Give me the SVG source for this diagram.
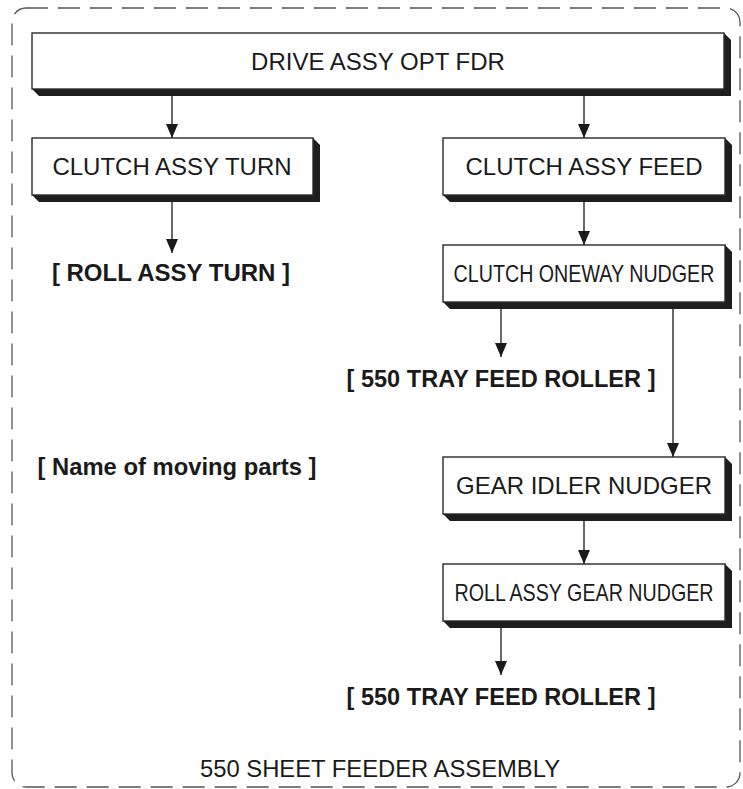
<svg xmlns="http://www.w3.org/2000/svg" width="743" height="789" viewBox="0 0 743 789">
<defs>
<style>
.box{fill:#fff;stroke:#2a2a2a;stroke-width:1.4}
.sh{fill:#1e1e1e}
.t{font-family:"Liberation Sans",Arial,sans-serif;font-size:24px;fill:#1a1a1a;text-anchor:middle}
.b{font-family:"Liberation Sans",Arial,sans-serif;font-size:24px;font-weight:bold;fill:#1a1a1a;text-anchor:middle}
.c{stroke:#2a2a2a;stroke-width:1.4;fill:none}
</style>
<marker id="ah" viewBox="0 0 14 12" refX="14" refY="6" markerWidth="14" markerHeight="12" markerUnits="userSpaceOnUse" orient="auto">
<path d="M0,0 L14,6 L0,12 Z" fill="#1a1a1a"/>
</marker>
</defs>
<rect width="743" height="789" fill="#fff"/>
<rect x="12" y="8" width="728" height="779" rx="14" fill="none" stroke="#555" stroke-width="1.3" stroke-dasharray="22 10"/>

<g id="drive">
<path class="sh" d="M724,33 L731,40 L731,96 L39,96 L32,89 Z"/>
<rect class="box" x="32" y="33" width="692" height="56"/>
<text class="t" x="378" y="70">DRIVE ASSY OPT FDR</text>
</g>
<g id="clutch_turn">
<path class="sh" d="M313,138 L320,145 L320,202 L39,202 L32,195 Z"/>
<rect class="box" x="32" y="138" width="281" height="57"/>
<text class="t" x="172" y="175">CLUTCH ASSY TURN</text>
</g>
<g id="clutch_feed">
<path class="sh" d="M725,138 L732,145 L732,202 L450,202 L443,195 Z"/>
<rect class="box" x="443" y="138" width="282" height="57"/>
<text class="t" x="584" y="175">CLUTCH ASSY FEED</text>
</g>
<g id="clutch_oneway">
<path class="sh" d="M725,245 L732,252 L732,309 L450,309 L443,302 Z"/>
<rect class="box" x="443" y="245" width="282" height="57"/>
<text class="t" transform="translate(584,282) scale(0.82,1)" x="0" y="0">CLUTCH ONEWAY NUDGER</text>
</g>
<g id="gear_idler">
<path class="sh" d="M725,457 L732,464 L732,521 L450,521 L443,514 Z"/>
<rect class="box" x="443" y="457" width="282" height="57"/>
<text class="t" x="584" y="494">GEAR IDLER NUDGER</text>
</g>
<g id="roll_gear">
<path class="sh" d="M725,564 L732,571 L732,628 L450,628 L443,621 Z"/>
<rect class="box" x="443" y="564" width="282" height="57"/>
<text class="t" transform="translate(584,601) scale(0.82,1)" x="0" y="0">ROLL ASSY GEAR NUDGER</text>
</g>
<g id="roll_turn">
<text class="b" x="171" y="281">[ ROLL ASSY TURN ]</text>
</g>
<g id="tray1">
<text class="b" x="501" y="387" textLength="309" lengthAdjust="spacingAndGlyphs">[ 550 TRAY FEED ROLLER ]</text>
</g>
<g id="legend">
<text class="b" x="177" y="475" textLength="279" lengthAdjust="spacingAndGlyphs">[ Name of moving parts ]</text>
</g>
<g id="tray2">
<text class="b" x="501" y="705" textLength="309" lengthAdjust="spacingAndGlyphs">[ 550 TRAY FEED ROLLER ]</text>
</g>
<g id="title">
<text class="t" x="380" y="777" textLength="360" lengthAdjust="spacingAndGlyphs">550 SHEET FEEDER ASSEMBLY</text>
</g>
<g id="connectors">
<line class="c" x1="172" y1="96" x2="172" y2="138" marker-end="url(#ah)"/>
<line class="c" x1="584" y1="96" x2="584" y2="138" marker-end="url(#ah)"/>
<line class="c" x1="172" y1="202" x2="172" y2="253" marker-end="url(#ah)"/>
<line class="c" x1="584" y1="202" x2="584" y2="245" marker-end="url(#ah)"/>
<line class="c" x1="501" y1="309" x2="501" y2="357" marker-end="url(#ah)"/>
<line class="c" x1="673" y1="309" x2="673" y2="457" marker-end="url(#ah)"/>
<line class="c" x1="584" y1="521" x2="584" y2="564" marker-end="url(#ah)"/>
<line class="c" x1="501" y1="628" x2="501" y2="675" marker-end="url(#ah)"/>
</g>
</svg>
